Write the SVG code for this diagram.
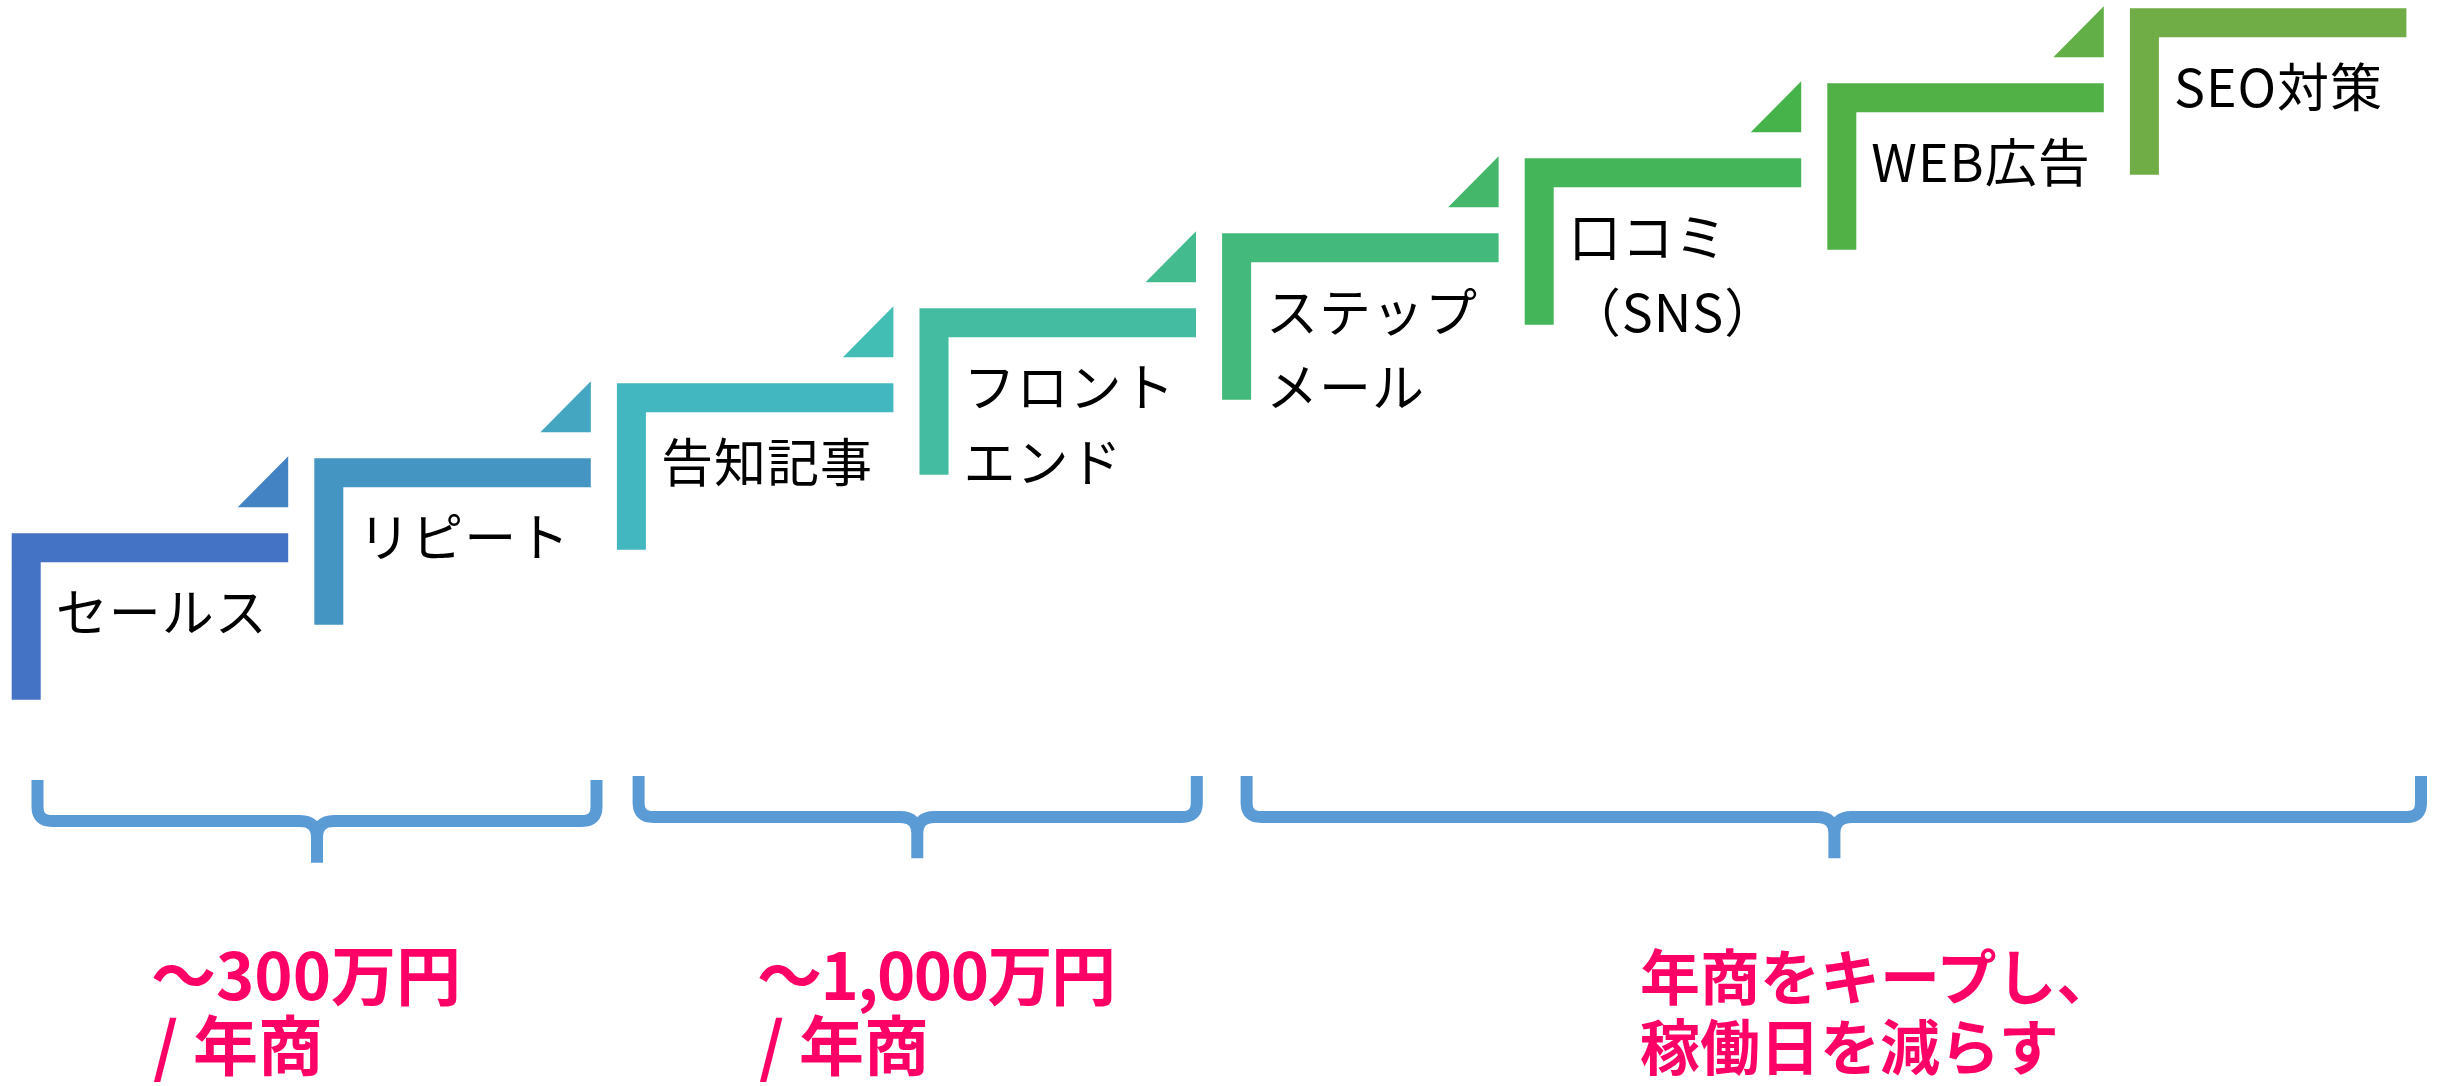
<svg xmlns="http://www.w3.org/2000/svg" xmlns:xlink="http://www.w3.org/1999/xlink" width="2438" height="1086" viewBox="0 0 2438 1086">
<style>
.lbl{font-family:"Noto Sans CJK JP","Noto Sans",sans-serif;font-size:52px;fill:#000;letter-spacing:1px}
.pink{font-family:"Noto Sans CJK JP","Noto Sans",sans-serif;font-size:60px;font-weight:bold;fill:#FF0066}
.big{font-size:65px}
.brace{fill:none;stroke:#5B9BD5;stroke-width:12;stroke-linecap:butt;stroke-linejoin:round}
</style>
<defs>
<path id="step" d="M0 0H276.5V29H29V166.5H0Z"/>
<path id="tri" d="M226 -26L276.5 -77V-26Z"/>
</defs>
<rect width="2438" height="1086" fill="#fff"/>
<g id="connectors">
<use xlink:href="#tri" transform="translate(11.7 533.3)" fill="#4483C3"/>
<use xlink:href="#tri" transform="translate(314.3 458.3)" fill="#44A6C0"/>
<use xlink:href="#tri" transform="translate(616.9 383.3)" fill="#43BEB4"/>
<use xlink:href="#tri" transform="translate(919.5 308.3)" fill="#43BB8E"/>
<use xlink:href="#tri" transform="translate(1222.1 233.3)" fill="#44B76A"/>
<use xlink:href="#tri" transform="translate(1524.7 158.3)" fill="#45B34A"/>
<use xlink:href="#tri" transform="translate(1827.3 83.3)" fill="#61AF46"/>
</g>
<g id="step1" transform="translate(11.7 533.3)">
<use xlink:href="#step" fill="#4472C4"/>
<text class="lbl" x="44" y="99">セールス</text>
</g>
<g id="step2" transform="translate(314.3 458.3)">
<use xlink:href="#step" fill="#4495C1"/>
<text class="lbl" x="44" y="99">リピート</text>
</g>
<g id="step3" transform="translate(616.9 383.3)">
<use xlink:href="#step" fill="#43B7BF"/>
<text class="lbl" x="44" y="99">告知記事</text>
</g>
<g id="step4" transform="translate(919.5 308.3)">
<use xlink:href="#step" fill="#43BCA1"/>
<text class="lbl" x="44" y="99">フロント</text>
<text class="lbl" x="44" y="174">エンド</text>
</g>
<g id="step5" transform="translate(1222.1 233.3)">
<use xlink:href="#step" fill="#44B97C"/>
<text class="lbl" x="44" y="99">ステップ</text>
<text class="lbl" x="44" y="174">メール</text>
</g>
<g id="step6" transform="translate(1524.7 158.3)">
<use xlink:href="#step" fill="#45B55A"/>
<text class="lbl" x="44" y="99">口コミ</text>
<text class="lbl" x="44" y="174">（SNS）</text>
</g>
<g id="step7" transform="translate(1827.3 83.3)">
<use xlink:href="#step" fill="#51B146"/>
<text class="lbl" x="44" y="99">WEB広告</text>
</g>
<g id="step8" transform="translate(2129.9 8.3)">
<use xlink:href="#step" fill="#70AD47"/>
<text class="lbl" x="44" y="99">SEO対策</text>
</g>
<g id="braces">
<path class="brace" d="M37.5 780V807Q37.5 821 52 821H300Q317 821 317 838V862.7M596.5 780V807Q596.5 821 582 821H334Q317 821 317 838"/>
<path class="brace" d="M638.6 776V803Q638.6 817 653 817H900Q917.3 817 917.3 834V858.3M1196.8 776V803Q1196.8 817 1182 817H934.6Q917.3 817 917.3 834"/>
<path class="brace" d="M1246.6 776V803Q1246.6 817 1261 817H1817Q1834.4 817 1834.4 834V858.3M2421 776V803Q2421 817 2407 817H1851.8Q1834.4 817 1834.4 834"/>
</g>
<g id="notes">
<text class="pink big" x="151" y="1000">〜300万円</text>
<text class="pink big" x="153" y="1070">/ 年商</text>
<text class="pink big" x="757" y="1000" letter-spacing="-1.5">〜1,000万円</text>
<text class="pink big" x="759" y="1070">/ 年商</text>
<text class="pink" x="1640" y="1000">年商をキープし、</text>
<text class="pink" x="1640" y="1070">稼働日を減らす</text>
</g>
</svg>
